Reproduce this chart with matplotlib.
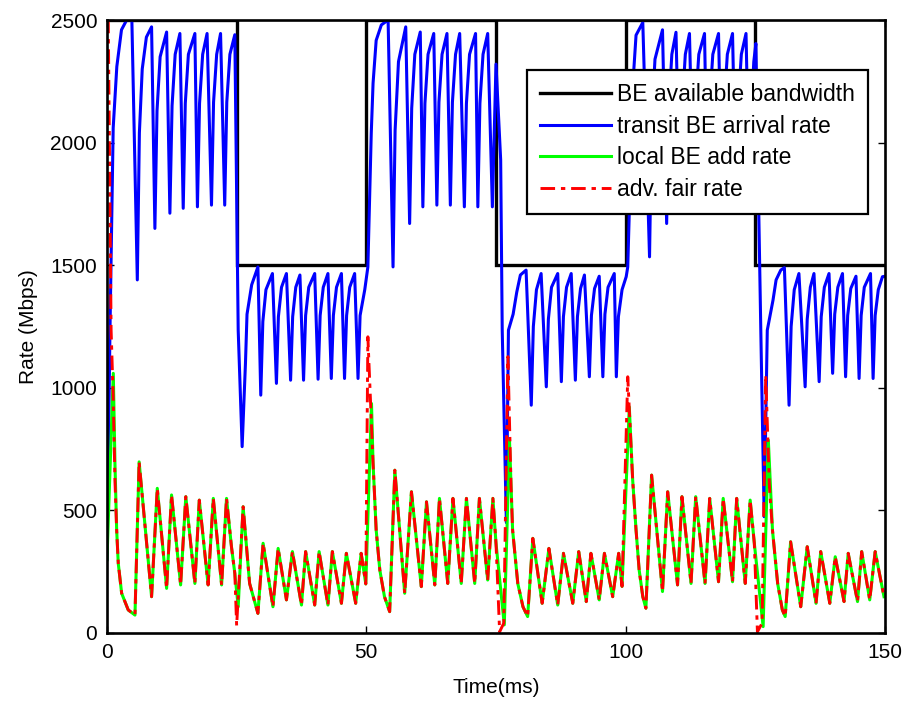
import matplotlib
matplotlib.use('Agg')
import matplotlib.pyplot as plt

plt.rcParams['font.family'] = ['Liberation Sans', 'DejaVu Sans']

# available BE bandwidth (Mbps), switching every 25 ms
bw_edges = [0, 25, 50, 75, 100, 125, 150]
bw_levels = [2500, 1500, 2500, 1500, 2500, 1500]

# transit BE arrival rate (ms, Mbps), one line per 25 ms period
blue_t = [0.0, 0.58, 1.2, 1.9, 2.8, 3.8, 4.8, 5.85, 6.25, 6.8, 7.6, 8.6,
          9.24, 9.65, 10.25, 11.5, 12.13, 12.55, 13.15, 14.06, 14.7, 15.1, 15.7, 16.95,
          17.44, 17.85, 18.45, 19.3, 20.15, 20.55, 21.15, 21.9, 22.7, 23.1, 23.7, 24.65,
          24.97, 25.3, 26.06,
          26.7, 27.0, 27.9, 29.1, 29.65, 30.05, 30.65, 31.9, 32.67, 33.05, 33.65, 34.6,
          35.4, 35.8, 36.4, 37.2, 37.9, 38.3, 38.9, 40.05, 40.7, 41.1, 41.7, 42.6,
          43.25, 43.65, 44.25, 45.2, 45.8, 46.2, 46.8, 47.75, 48.4, 48.8, 49.7, 50.3,
          50.95, 51.3, 51.9, 52.9, 54.2, 55.15, 55.55, 56.2, 57.6,
          58.35, 58.75, 59.35, 60.4, 60.9, 61.3, 61.9, 63.0, 63.6, 64.0, 64.6, 65.55,
          66.2, 66.6, 67.2, 68.0, 68.9, 69.3, 69.9, 71.06, 71.5, 71.9, 72.5, 73.4,
          74.3, 75.0, 75.9, 76.2, 77.0, 77.4,
          78.3, 79.0, 79.7, 80.8, 81.8, 82.2, 82.8, 83.7, 84.7, 85.1, 85.7, 86.9,
          87.6, 88.0, 88.6, 89.5, 90.3, 90.7, 91.3, 92.05, 93.0, 93.4, 94.0, 94.9,
          95.6, 96.0, 96.6, 97.8, 98.2, 98.6, 99.3, 100.1,
          100.4, 101.4, 102.0, 103.3, 104.6, 105.0, 105.65, 107.1,
          107.9, 108.3, 108.9, 109.7, 110.5, 110.9, 111.5, 112.3, 113.1, 113.5, 114.1, 115.2,
          115.8, 116.2, 116.8, 117.9, 118.6, 119.0, 119.6, 120.6, 121.3, 121.7, 122.3, 123.2,
          123.9, 124.3, 124.7, 125.1, 126.05, 126.7, 127.3,
          128.4, 129.0, 129.9, 130.6, 131.5, 131.9, 132.5, 133.4, 134.6, 135.0, 135.6, 136.3,
          137.3, 137.7, 138.3, 139.2, 139.9, 140.3, 140.9, 141.8, 142.4, 142.8, 143.4, 144.4,
          145.0, 145.4, 146.0, 147.2, 147.7, 148.1, 148.7, 149.5, 150.0]
blue_v = [300, 1235, 2060, 2310, 2460, 2500, 2500, 1440, 2040, 2300, 2430, 2472,
          1650, 2130, 2350, 2451, 1712, 2150, 2360, 2445, 1732, 2160, 2360, 2445,
          1738, 2160, 2360, 2445, 1745, 2165, 2360, 2445, 1745, 2165, 2360, 2440,
          1830, 1235, 760,
          1100, 1300, 1420, 1493, 970, 1270, 1400, 1466, 1018, 1290, 1410, 1466,
          1031, 1290, 1410, 1460, 1031, 1295, 1410, 1466, 1035, 1295, 1410, 1466,
          1038, 1295, 1410, 1466, 1038, 1295, 1410, 1466, 1038, 1295, 1400, 1493,
          2037, 2242, 2417, 2480, 2500, 1493, 2050, 2330, 2472,
          1670, 2140, 2360, 2451, 1738, 2160, 2360, 2445, 1745, 2165, 2360, 2445,
          1745, 2165, 2360, 2445, 1738, 2160, 2360, 2445, 1738, 2160, 2360, 2445,
          1738, 2320, 1930, 1235, 450, 1235,
          1300, 1390, 1460, 1480, 929, 1250, 1400, 1466, 1004, 1280, 1410, 1466,
          1025, 1290, 1410, 1466, 1031, 1290, 1405, 1460, 1045, 1295, 1405, 1455,
          1045, 1300, 1410, 1466, 1045, 1290, 1400, 1453,
          1493, 2242, 2438, 2490, 1534, 2080, 2340, 2460,
          1670, 2140, 2360, 2450, 1712, 2150, 2360, 2445, 1735, 2160, 2360, 2445,
          1740, 2160, 2360, 2445, 1740, 2160, 2360, 2445, 1740, 2160, 2360, 2445,
          1740, 2160, 2330, 2404, 1235, 474, 1235,
          1357, 1440, 1480, 1490, 929, 1250, 1400, 1466, 1004, 1280, 1410, 1466,
          1025, 1290, 1410, 1466, 1059, 1300, 1410, 1466, 1045, 1295, 1405, 1455,
          1038, 1295, 1410, 1466, 1038, 1295, 1400, 1453, 1455]

# local BE add rate (ms, Mbps)
green_t = [0.0, 1.22, 1.54, 1.87, 2.18, 2.83, 4.1, 5.4, 6.2, 8.6, 9.7, 11.5, 12.45,
           14.2, 15.2, 16.95, 17.8, 19.5, 20.5, 22.1, 23.05, 24.0, 24.65, 25.3,
           26.25, 27.5, 29.1, 30.1, 32.0, 33.0, 34.6, 35.75, 37.5, 38.3, 40.05, 40.9,
           42.6, 43.45, 45.2, 46.15, 47.95, 49.0, 49.9,
           51.0, 51.3, 51.9, 52.6, 53.5, 54.5, 55.5, 57.4, 58.7, 60.6, 61.6, 63.2, 64.1,
           65.7, 66.7, 68.3, 69.3, 70.9, 71.8, 73.4, 74.4, 75.0, 76.6,
           77.6, 78.2, 79.2, 80.2, 81.1, 82.1, 83.9, 85.2, 86.9, 88.0, 89.8, 90.95,
           92.4, 93.3, 94.9, 95.9, 97.5, 98.65, 99.3,
           100.7, 101.35, 102.0, 102.6, 103.3, 103.9, 105.0, 107.1, 108.1, 110.0,
           110.85, 112.6, 113.5, 115.3, 116.2, 117.9, 118.8, 120.6, 121.4, 123.05,
           124.0, 124.8, 126.5,
           127.5, 128.3, 129.3, 130.2, 130.75, 131.8, 133.75, 135.0, 136.7, 137.6,
           139.35, 140.4, 142.1, 142.9, 144.7, 145.5, 147.05, 148.1, 149.8]
green_v = [298, 1059, 692, 420, 284, 162, 94, 73, 698, 148, 590, 182, 563,
           196, 556, 202, 542, 196, 549, 196, 549, 352, 243, 107,
           515, 202, 80, 366, 107, 345, 135, 332, 114, 332, 114, 332,
           114, 332, 121, 325, 121, 325, 200,
           936, 692, 420, 257, 148, 87, 664, 162, 576, 189, 535, 196, 549,
           202, 549, 202, 549, 202, 549, 216, 549, 366, 33,
           787, 420, 202, 107, 67, 386, 121, 345, 114, 325, 121, 332,
           128, 325, 135, 325, 148, 325, 190,
           922, 624, 420, 257, 148, 101, 644, 169, 576, 196,
           556, 202, 556, 202, 549, 209, 549, 209, 549, 202,
           542, 366, 26,
           787, 420, 202, 94, 67, 372, 107, 352, 121, 332,
           121, 311, 128, 325, 128, 332, 135, 332, 148]

# advertised fair rate (ms, Mbps)
red_t = [0.0, 0.25, 0.8, 1.2, 1.54, 1.87, 2.18, 2.83, 4.1, 5.4, 6.2, 8.6, 9.7, 11.5,
         12.45, 14.2, 15.2, 16.95, 17.8, 19.5, 20.5, 22.1, 23.05, 24.0, 24.65, 25.0,
         26.25, 27.5, 29.1, 30.1, 32.0, 33.0, 34.6, 35.75, 37.5, 38.3, 40.05, 40.9,
         42.6, 43.45, 45.2, 46.15, 47.95, 49.0, 49.9,
         50.3, 50.8, 51.3, 51.9, 52.6, 53.5, 54.5, 55.5, 57.4, 58.7, 60.6, 61.6, 63.2,
         64.1, 65.7, 66.7, 68.3, 69.3, 70.9, 71.8, 73.4, 74.4, 75.0, 75.7, 76.5,
         77.3, 77.9, 78.2, 79.2, 80.2, 81.1, 82.1, 83.9, 85.2, 86.9, 88.0, 89.8, 90.95,
         92.4, 93.3, 94.9, 95.9, 97.5, 98.65, 99.3,
         100.4, 101.0, 101.35, 102.0, 102.6, 103.3, 103.9, 105.0, 107.1, 108.1, 110.0,
         110.85, 112.6, 113.5, 115.3, 116.2, 117.9, 118.8, 120.6, 121.4, 123.05,
         124.0, 124.8, 125.4, 126.3,
         127.0, 127.7, 128.3, 129.3, 130.2, 130.75, 131.8, 133.75, 135.0, 136.7, 137.6,
         139.35, 140.4, 142.1, 142.9, 144.7, 145.5, 147.05, 148.1, 149.8]
red_v = [2500, 2500, 1235, 963, 624, 420, 284, 162, 94, 73, 698, 148, 590, 182,
         563, 196, 556, 202, 542, 196, 549, 196, 549, 352, 243, 30,
         515, 202, 80, 366, 107, 345, 135, 332, 114, 332, 114, 332,
         114, 332, 121, 325, 121, 325, 200,
         1208, 950, 692, 420, 257, 148, 87, 664, 162, 576, 189, 535, 196,
         549, 202, 549, 202, 549, 202, 549, 216, 549, 366, 5, 40,
         1127, 600, 420, 202, 107, 67, 386, 121, 345, 114, 325, 121, 332,
         128, 325, 135, 325, 148, 325, 190,
         1045, 780, 624, 420, 257, 148, 101, 644, 169, 576, 196,
         556, 202, 556, 202, 549, 209, 549, 209, 549, 202,
         542, 366, 5, 40,
         1052, 600, 420, 202, 94, 67, 372, 107, 352, 121, 332,
         121, 311, 128, 325, 128, 332, 135, 332, 148]

fig = plt.figure(figsize=(9.08, 7.02), dpi=100)
ax = fig.add_axes([0.1178, 0.0983, 0.8569, 0.8732])

ax.stairs(bw_levels, bw_edges, baseline=None, color='k', lw=2.4,
          label='BE available bandwidth')
ax.plot(blue_t, blue_v, color='#0000ff', lw=2.2, label='transit BE arrival rate')
ax.plot(green_t, green_v, color='#00ff00', lw=2.2, label='local BE add rate')
ax.plot(red_t, red_v, color='#ff0000', lw=2.1, ls=(0, (5, 2, 1.5, 2)),
        label='adv. fair rate')

ax.set_xlim(0, 150)
ax.set_ylim(0, 2500)
ax.set_xticks([0, 50, 100, 150])
ax.set_yticks([0, 500, 1000, 1500, 2000, 2500])
ax.tick_params(direction='in', top=True, right=True, labelsize=15,
               length=5, width=1, pad=7)
for s in ax.spines.values():
    s.set_linewidth(1.9)

ax.set_xlabel('Time(ms)', fontsize=15, labelpad=12)
ax.set_ylabel('Rate (Mbps)', fontsize=15, labelpad=9)

leg = ax.legend(loc='upper right', bbox_to_anchor=(0.978, 0.918), fontsize=16.5,
                fancybox=False, edgecolor='k', framealpha=1, handlelength=3.1,
                handletextpad=0.3, borderpad=0.55, labelspacing=0.38,
                borderaxespad=0)
leg.get_frame().set_linewidth(1.6)

fig.savefig('out.png', dpi=100)
